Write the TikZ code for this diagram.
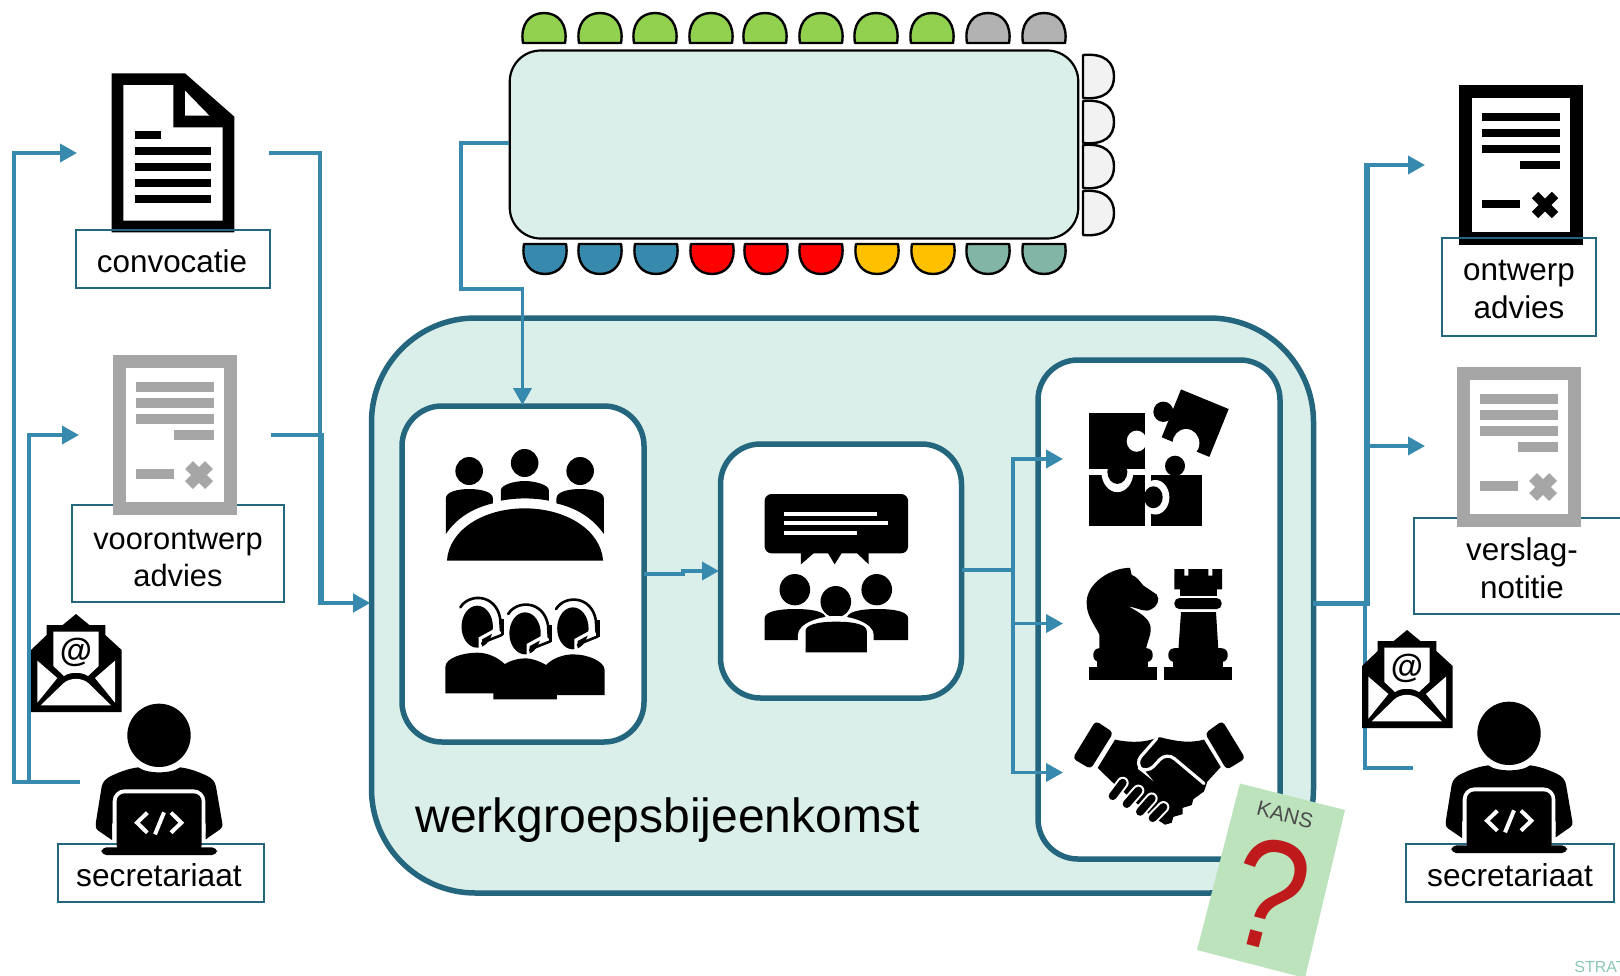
\documentclass[tikz,border=0pt]{standalone}
\usepackage{fontspec}
\setmainfont{Liberation Sans}
\usetikzlibrary{arrows.meta}
\definecolor{flow}{HTML}{378AAE}
\definecolor{frame}{HTML}{25667F}
\definecolor{pale}{HTML}{DAEFE9}
\definecolor{seatgreen}{HTML}{92D050}
\definecolor{seatgray}{HTML}{B2B2B2}
\definecolor{seatblue}{HTML}{378AAE}
\definecolor{seatred}{HTML}{FF0000}
\definecolor{seatyellow}{HTML}{FFC000}
\definecolor{seatteal}{HTML}{82B5A5}
\definecolor{seatwhite}{HTML}{F2F2F2}
\definecolor{docgray}{HTML}{A6A6A6}
\definecolor{cardgreen}{HTML}{BDE3BC}
\definecolor{cardred}{HTML}{BE1A1C}
\definecolor{brandgreen}{HTML}{8CC7B2}
\newcommand\DropBy[1]{\rule{0pt}{#1}}
\tikzset{
  flowline/.style={draw=flow,line width=1.9pt,miter limit=10},
  flowarrow/.style={flowline,-{Triangle[length=8.5pt,width=9pt]}},
  labelbox/.style={draw=frame,line width=0.85pt,inner sep=0pt,outer sep=0pt,align=center,
    font=\fontsize{15.7pt}{18.8pt}\selectfont},
  roundbox/.style={draw=frame,line width=2.75pt,fill=white,inner sep=0pt,outer sep=0pt,rounded corners=20pt},
  zoomfrom/.style n args={4}{shift={(#1,#2)},x=#3pt,y=#4pt},
}
% seats: centre x, flat y, far y
\newcommand\SeatH[4]{\draw[black,line width=1.2pt,fill=#4,line join=round]
  (#1-21,#2) .. controls (#1-24,{#2*0.4+#3*0.6}) and (#1-15,#3) .. (#1,#3)
  .. controls (#1+15,#3) and (#1+24,{#2*0.4+#3*0.6}) .. (#1+21,#2) -- cycle;}
\newcommand\SeatV[2]{\draw[black,line width=1.2pt,fill=seatwhite,line join=round]
  (1083,#1) .. controls (1105,#1-2) and (1114,{(#1+#2)/2-14}) .. (1114,{(#1+#2)/2})
  .. controls (1114,{(#1+#2)/2+14}) and (1105,#2+2) .. (1083,#2) -- cycle;}
% report document: outer corner x,y; colour; line weight
\newcommand\ReportIcon[4]{\begin{scope}[shift={(#1,#2)}]
  \fill[#3] (0,0) rectangle (124,160);
  \fill[white] (13,13) rectangle (111,147);
  \draw[#3,line width=#4] (23,32) -- (101,32) (23,48) -- (101,48) (23,64) -- (101,64)
     (61,80) -- (101,80) (23,119) -- (61,119);
  \draw[#3,line width=#4+0.5pt] (76,110) -- (96,130) (96,110) -- (76,130);
\end{scope}}
% envelope, coordinates read from the crop at 3x
\newcommand\MailIcon[2]{\begin{scope}[zoomfrom={#1}{#2}{0.16667}{-0.16667}]
  \fill (93,366) -- (93,180) -- (140,135) -- (140,105) -- (188,105) -- (228,72) -- (268,105)
     -- (316,105) -- (316,135) -- (365,180) -- (365,366) -- cycle;
  \fill[white] (160,125) -- (296,125) -- (296,228) -- (264,258) .. controls (245,245) and (210,245) .. (192,258) -- (160,228) -- cycle;
  \fill[white] (112,212) -- (172,264) -- (112,338) -- cycle;
  \fill[white] (345,212) -- (285,264) -- (345,338) -- cycle;
  \fill[white] (122,346) -- (190,280) .. controls (210,262) and (246,262) .. (266,280) -- (333,346) -- cycle;
  \node[inner sep=0pt,font=\fontsize{16.5pt}{16.5pt}\selectfont\bfseries] (at#1) at (228,188) {@};
\end{scope}}
% person behind a laptop
\newcommand\CoderIcon[2]{\begin{scope}[zoomfrom={#1}{#2}{0.16667}{-0.16667}]
  \fill (477,436) circle[radius=95];
  \fill (336,750) -- (295,722) .. controls (285,715) and (287,705) .. (288,695) -- (305,590)
    .. controls (308,575) and (318,565) .. (335,557) .. controls (365,543) and (390,535) .. (415,532)
    .. controls (440,552) and (515,552) .. (540,532) .. controls (565,535) and (590,543) .. (620,557)
    .. controls (637,565) and (645,575) .. (648,590) -- (667,700) .. controls (668,710) and (665,715) .. (660,718)
    -- (617,748) -- (617,700) -- (336,700) -- cycle;
  \fill[white,rounded corners=6pt] (338,762) -- (338,598) -- (616,598) -- (616,762) -- cycle;
  \fill[rounded corners=4pt] (350,790) -- (350,610) -- (605,610) -- (605,790) -- cycle;
  \fill[rounded corners=2.5pt] (304,772) -- (651,772) -- (651,795) -- (304,795) -- cycle;
  \draw[white,line width=2pt] (442,668) -- (411,698) -- (442,728) (492,667) -- (465,733) (513,668) -- (544,698) -- (513,728);
\end{scope}}
\newcommand\Bust[4]{\pgfmathsetmacro\xm{(#1+#2)/2}\pgfmathsetmacro\dx{(#2-#1)*0.32}
  \fill (#1,#4) -- (#1,#3+28) .. controls (#1,#3+10) and (\xm-\dx,#3) .. (\xm,#3)
    .. controls (\xm+\dx,#3) and (#2,#3+10) .. (#2,#3+28) -- (#2,#4) -- cycle;}
\newcommand\Agent[2]{\begin{scope}[shift={(#1,#2)}]
  \fill (0,0) ellipse[x radius=41,y radius=63];
  \draw[white,line width=1.6pt] (8,68) -- (8,35) -- (48,10);
  \draw[line width=1.3pt,line cap=round,line join=round] (-44,-58) .. controls (-22,-100) and (48,-100) .. (60,-25) -- (62,12);
  \draw[line width=1.8pt] (66,-24) -- (66,26);
  \draw[line width=1.3pt] (66,24) -- (22,44);
  \fill (16,50) circle[radius=6];
\end{scope}}
\begin{document}
\begin{tikzpicture}[x=0.5pt,y=-0.5pt]
\useasboundingbox (0,0) rectangle (1620,975);
\clip (0,0) rectangle (1620,975);

% ---------- containers
\node[roundbox,fill=pale,rounded corners=52pt,minimum width=471pt,minimum height=287.5pt] (main) at (842.5,605.5) {};
\node[roundbox,minimum width=121pt,minimum height=168pt] (gather) at (523,574) {};
\node[roundbox,minimum width=120.5pt,minimum height=127pt] (talk) at (841,571) {};
\node[roundbox,minimum width=121pt,minimum height=249.5pt] (outcome) at (1159,609.5) {};
\node[draw=black,line width=1.1pt,fill=pale,inner sep=0pt,outer sep=0pt,rounded corners=15.5pt,minimum width=284.25pt,minimum height=94pt] (table) at (794,144.5) {};

\node[anchor=base west,inner sep=0pt,font=\fontsize{24pt}{28pt}\selectfont] (wg) at (415,832) {werkgroepsbijeenkomst};

% ---------- seats
\SeatH{544}{43}{13}{seatgreen}\SeatH{600}{43}{13}{seatgreen}\SeatH{655}{43}{13}{seatgreen}\SeatH{711}{43}{13}{seatgreen}
\SeatH{765}{43}{13}{seatgreen}\SeatH{821}{43}{13}{seatgreen}\SeatH{876}{43}{13}{seatgreen}\SeatH{932}{43}{13}{seatgreen}
\SeatH{988}{43}{13}{seatgray}\SeatH{1044}{43}{13}{seatgray}
\SeatH{545}{244}{274}{seatblue}\SeatH{600}{244}{274}{seatblue}\SeatH{656}{244}{274}{seatblue}
\SeatH{712}{244}{274}{seatred}\SeatH{766}{244}{274}{seatred}\SeatH{821}{244}{274}{seatred}
\SeatH{877}{244}{274}{seatyellow}\SeatH{933}{244}{274}{seatyellow}
\SeatH{988}{244}{274}{seatteal}\SeatH{1044}{244}{274}{seatteal}
\SeatV{55}{98}\SeatV{101}{143}\SeatV{145}{188}\SeatV{191}{235}

% ---------- named connector ends
\coordinate (secL) at (80,782);
\coordinate (convIn) at (77,153);
\coordinate (voorIn) at (79,435);
\coordinate (convOut) at (269,153);
\coordinate (voorOut) at (271,435);
\coordinate (mainIn) at (370,603);
\coordinate (mainOut) at (1313,603.5);
\coordinate (tableOut) at (509,143);
\coordinate (gatherIn) at (522.5,405);
\coordinate (gatherOut) at (644,574);
\coordinate (talkIn) at (719,571);
\coordinate (talkOut) at (962,570);
\coordinate (puzzleIn) at (1063,459);
\coordinate (chessIn) at (1063,623.5);
\coordinate (handIn) at (1063,772.5);
\coordinate (ontwerpIn) at (1425,165);
\coordinate (verslagIn) at (1425,446);
\coordinate (secR) at (1413,768);

% ---------- connectors
\draw[flowarrow] (secL) -- (14,782) |- (convIn);
\draw[flowarrow] (secL) -- (29,782) |- (voorIn);
\draw[flowarrow] (convOut) -- (320,153) |- (mainIn);
\draw[flowarrow] (voorOut) -- (322,435) |- (mainIn);
\draw[flowarrow] (tableOut) -- (461,143) -- (461,289) -- (522.5,289) -- (gatherIn);
\draw[flowarrow] (gatherOut) -- (683,574) -- (683,571) -- (talkIn);
\draw[flowline] (talkOut) -- (1013,570);
\draw[flowarrow] (1013,623.5) |- (puzzleIn);
\draw[flowarrow] (1013,570) |- (chessIn);
\draw[flowarrow] (1013,570) |- (handIn);
\draw[flowline,line width=2.1pt] (mainOut) -- (1367,603.5);
\draw[flow,line width=3pt] (1366.5,606) -- (1366.5,163);
\draw[flowarrow] (1365,165) -- (ontwerpIn);
\draw[flowarrow] (1368,446) -- (verslagIn);
\draw[flowline,line width=2pt] (1365,603.5) |- (secR);

% ---------- labelled documents on the left
\begin{scope}[zoomfrom={0}{50}{0.16667}{-0.16667}]
  \fill (335,70) -- (555,70) -- (703,200) -- (703,547) -- (335,547) -- cycle;
  \fill[white] (370,105) -- (520,105) -- (520,232) -- (668,232) -- (668,512) -- (370,512) -- cycle;
  \fill[white] (555,122) -- (628,197) -- (555,197) -- cycle;
  \fill (405,243) rectangle (483,267);
  \fill (405,291) rectangle (633,315);
  \fill (405,339) rectangle (633,363);
  \fill (405,387) rectangle (633,411);
  \fill (405,435) rectangle (633,459);
\end{scope}
\node[labelbox,minimum width=97pt,minimum height=29pt] (conv) at (173,259) {\DropBy{13.4pt}convocatie\hspace{1pt}};
\node[labelbox,font=\fontsize{15.4pt}{18.8pt}\selectfont,minimum width=106pt,minimum height=48.5pt] (voor) at (178,553.5) {\DropBy{14.6pt}voorontwerp\hspace{2pt}\\advies\hspace{1pt}};
\ReportIcon{113}{355}{docgray}{5pt}
\node[labelbox,font=\fontsize{15.85pt}{18.8pt}\selectfont,minimum width=103pt,minimum height=29pt] (secLeft) at (161,873) {\DropBy{13.6pt}secretariaat\hspace{2pt}};
\MailIcon{0}{590}
\CoderIcon{0}{590}

% ---------- labelled documents on the right
\ReportIcon{1459}{85}{black}{4pt}
\node[labelbox,minimum width=77pt,minimum height=49pt] (ontwerp) at (1519,287) {\DropBy{12.6pt}ontwerp\\advies};
\node[labelbox,minimum width=108pt,minimum height=48pt] (verslag) at (1522,566) {\DropBy{13.6pt}verslag-\\notitie};
\ReportIcon{1457}{367}{docgray}{5pt}
\node[labelbox,font=\fontsize{15.85pt}{18.8pt}\selectfont,minimum width=104pt,minimum height=29pt] (secRight) at (1510,873) {\DropBy{13.2pt}secretariaat};
\MailIcon{1331}{606}
\CoderIcon{1350}{588}

% ---------- meeting + headset icons
\begin{scope}[zoomfrom={380}{390}{0.19135}{-0.16667}]
  \fill (233,243) ellipse[x radius=36,y radius=42];
  \fill (378,219) ellipse[x radius=36,y radius=42];
  \fill (523,243) ellipse[x radius=36,y radius=42];
  \fill (175,512) .. controls (180,420) and (270,355) .. (378,355) .. controls (486,355) and (577,420) .. (583,512) -- cycle;
  \fill (172,432) -- (172,325) .. controls (172,305) and (205,297) .. (233,297) .. controls (262,297) and (295,305) .. (295,325) -- (295,340) .. controls (240,355) and (200,385) .. (172,432) -- cycle;
  \fill (316,332) -- (316,300) .. controls (316,285) and (350,273) .. (378,273) .. controls (406,273) and (441,285) .. (441,300) -- (441,332) .. controls (400,323) and (357,323) .. (316,332) -- cycle;
  \fill (585,432) -- (585,325) .. controls (585,305) and (552,297) .. (523,297) .. controls (494,297) and (461,305) .. (461,325) -- (461,340) .. controls (516,355) and (556,385) .. (585,432) -- cycle;
  % headsets
  \Agent{254}{710}\Agent{379}{730}\Agent{504}{715}
  \fill (171,910) -- (171,830) .. controls (171,805) and (215,788) .. (254,788) .. controls (285,788) and (310,805) .. (326,822)
     .. controls (340,812) and (360,805) .. (379,805) .. controls (398,805) and (420,815) .. (434,825)
     .. controls (450,805) and (480,793) .. (504,793) .. controls (545,793) and (587,815) .. (587,840)
     -- (587,915) -- (462,915) -- (462,928) -- (296,928) -- (296,910) -- cycle;
  % talk icon
  \fill[rounded corners=3.5pt] (1005,312) rectangle (1380,490);
  \fill (1100,488) -- (1100,523) -- (1135,488) -- cycle;
  \fill (1170,488) -- (1188,523) -- (1207,488) -- cycle;
  \fill (1245,488) -- (1277,523) -- (1277,488) -- cycle;
  \fill[white] (1055,365) rectangle (1298,377);
  \fill[white] (1055,394) rectangle (1328,406);
  \fill[white] (1055,424) rectangle (1247,436);
  \fill (1084,599) ellipse[x radius=40,y radius=47];
  \fill (1298,599) ellipse[x radius=40,y radius=47];
  \fill (1191,635) ellipse[x radius=40,y radius=47];
  \Bust{1005}{1165}{657}{750}
  \Bust{1220}{1380}{657}{750}
  \fill[white] (1092,800) -- (1092,735) .. controls (1092,700) and (1150,678) .. (1191,678) .. controls (1232,678) and (1290,700) .. (1290,735) -- (1290,800) -- cycle;
  \Bust{1112}{1272}{695}{787}
\end{scope}

% ---------- puzzle, chess and handshake icons
\begin{scope}[zoomfrom={1000}{360}{0.16667}{-0.19608}]
  % puzzle
  \fill (453,292) rectangle (607,423);
  \fill (525,270) ellipse[x radius=30,y radius=26];
  \fill[white] (466,350) ellipse[x radius=42,y radius=44];
  \fill (268,292) rectangle (436,423);
  \fill (460,350) ellipse[x radius=28,y radius=28];
  \fill[white] (352,285) ellipse[x radius=48,y radius=52];
  \fill (268,135) rectangle (436,277);
  \fill (352,285) ellipse[x radius=30,y radius=31];
  \fill[white] (410,207) ellipse[x radius=30,y radius=27];
  \fill (543,75) -- (686,125) -- (628,247) -- (485,197) -- cycle;
  \fill (490,132) ellipse[x radius=30,y radius=26];
  \fill[white] (558,212) ellipse[x radius=40,y radius=36];
  % knight
  \fill (267,782) rectangle (470,817);
  \fill[rounded corners=3pt] (280,735) rectangle (458,770);
  \fill (291,765) rectangle (445,785);
  \fill (298,740) -- (298,700) .. controls (280,670) and (258,650) .. (260,615) .. controls (262,570) and (330,530) .. (390,530)
     -- (395,548) .. controls (410,552) and (420,565) .. (430,575) -- (470,598) .. controls (482,610) and (470,630) .. (455,635)
     .. controls (435,645) and (425,635) .. (385,628) .. controls (420,645) and (455,660) .. (452,690) .. controls (450,710) and (440,720) .. (438,740) -- cycle;
  % rook
  \fill (493,782) rectangle (695,817);
  \fill[rounded corners=3pt] (505,735) rectangle (683,770);
  \fill (518,765) rectangle (670,785);
  \fill (535,740) -- (543,643) -- (648,643) -- (655,740) -- cycle;
  \fill[rounded corners=2.5pt] (523,607) rectangle (665,635);
  \fill (540,585) rectangle (650,603);
  \fill (523,533) -- (553,533) -- (553,550) -- (565,550) -- (565,533) -- (625,533) -- (625,550) -- (637,550) -- (637,533) -- (666,533) -- (666,585) -- (523,585) -- cycle;
  % handshake
  \fill (345,968) .. controls (380,975) and (420,975) .. (445,970) -- (480,962) .. controls (510,968) and (560,980) .. (612,968)
     -- (662,1038) -- (622,1075) -- (612,1100) -- (580,1120) -- (575,1135) -- (548,1142) -- (548,1158) -- (520,1165) -- (515,1180) -- (495,1185)
     -- (450,1160) -- (335,1075) -- (293,1040) -- cycle;
  \draw[white,line width=1.6pt,line cap=round,rounded corners=5pt] (612,1080) -- (500,1000) -- (440,1055) -- (403,1030) -- (470,965);
  \draw[white,line width=2pt,rounded corners=2pt] (287,920) -- (340,950) -- (272,1043) -- (218,1016) -- cycle;
  \fill[rounded corners=2pt] (287,920) -- (340,950) -- (272,1043) -- (218,1016) -- cycle;
  \draw[white,line width=2pt,rounded corners=2pt] (667,920) -- (736,1016) -- (680,1045) -- (615,952) -- cycle;
  \fill[rounded corners=2pt] (667,920) -- (736,1016) -- (680,1045) -- (615,952) -- cycle;
  \foreach \a/\b/\c/\d in {338/1112/368/1078,380/1132/415/1098,420/1152/455/1118,458/1168/490/1140}{
    \draw[white,line width=6pt,line cap=round] (\a,\b) -- (\c,\d);
    \draw[black,line width=4pt,line cap=round] (\a,\b) -- (\c,\d);}
\end{scope}

% ---------- card
\fill[cardgreen] (1240,783.5) -- (1345,810) -- (1305,978) -- (1197,950) -- cycle;
\node[rotate=-14.5,inner sep=0pt,text=black!70,font=\fontsize{10.5pt}{12pt}\selectfont] (kans) at (1285,815) {KANS};
\node[rotate=-14.5,xscale=0.85,inner sep=0pt,text=cardred,font=\fontsize{78pt}{78pt}\selectfont] (vraag) at (1269,894) {?};

% ---------- brand
\node[anchor=base west,inner sep=0pt,text=brandgreen,font=\fontsize{8pt}{10pt}\selectfont] (brand) at (1574,972) {STRAT};
\end{tikzpicture}
\end{document}
